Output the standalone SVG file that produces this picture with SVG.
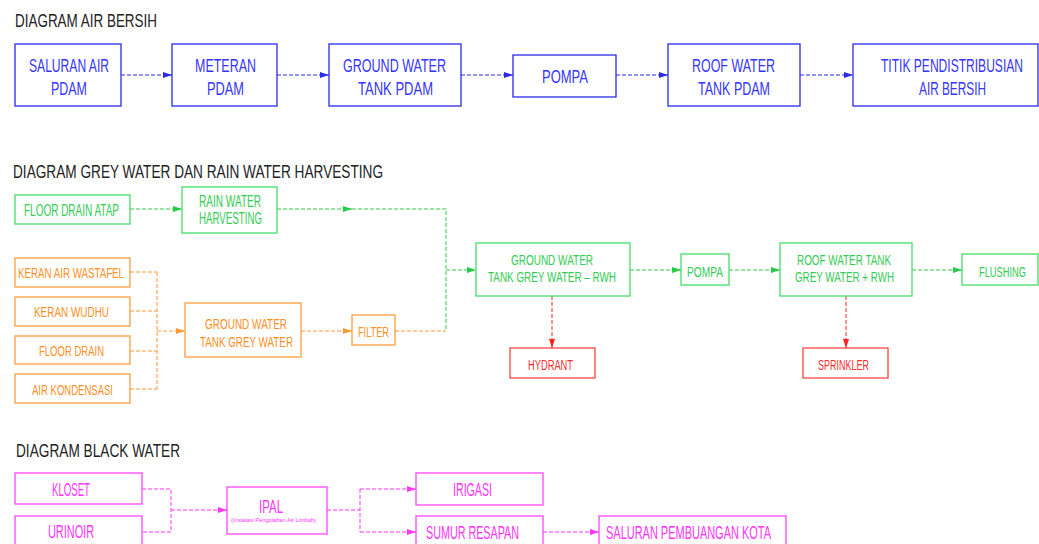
<svg xmlns="http://www.w3.org/2000/svg" width="1039" height="544" viewBox="0 0 1039 544">
<style>
text{font-family:"Liberation Sans Narrow","Liberation Sans",Arial,sans-serif;text-anchor:middle}
.t{font-size:19px;fill:#222;text-anchor:start}
.bx{fill:#fff;stroke-width:1.3}
.b .bx{stroke:#2a2ae8}.b text{fill:#3535ff;font-size:19px}
.g .bx{stroke:#44dd66}.g text{fill:#33cc55;font-size:15px}
.o .bx{stroke:#ff9d3d}.o text{fill:#ff8f26;font-size:15.5px}
.r .bx{stroke:#ff4444}.r text{fill:#ff2d2d;font-size:15px}
.m .bx{stroke:#ff44ff}.m text{fill:#ff33ff;font-size:18px}
.c path{fill:none;stroke-width:1;stroke-dasharray:4 2}
.cb{stroke:#2a2ae8}.cg{stroke:#33cc44}.co{stroke:#ff9933}.cr{stroke:#ff2222}.cm{stroke:#ff33ff}
</style>
<defs>
<marker id="ab" markerUnits="userSpaceOnUse" markerWidth="10" markerHeight="8" refX="9" refY="4" orient="auto"><path d="M0,1 L9,4 L0,7 Z" fill="#2a2ae8"/></marker>
<marker id="ag" markerUnits="userSpaceOnUse" markerWidth="10" markerHeight="8" refX="9" refY="4" orient="auto"><path d="M0,1 L9,4 L0,7 Z" fill="#22cc44"/></marker>
<marker id="ao" markerUnits="userSpaceOnUse" markerWidth="10" markerHeight="8" refX="9" refY="4" orient="auto"><path d="M0,1 L9,4 L0,7 Z" fill="#ff9933"/></marker>
<marker id="ar" markerUnits="userSpaceOnUse" markerWidth="10" markerHeight="8" refX="9" refY="4" orient="auto"><path d="M0,1 L9,4 L0,7 Z" fill="#ff2222"/></marker>
<marker id="am" markerUnits="userSpaceOnUse" markerWidth="10" markerHeight="8" refX="9" refY="4" orient="auto"><path d="M0,1 L9,4 L0,7 Z" fill="#ff33ff"/></marker>
</defs>
<rect width="1039" height="544" fill="#fff"/>

<g id="titles">
<text class="t" x="15" y="27" textLength="142" lengthAdjust="spacingAndGlyphs">DIAGRAM AIR BERSIH</text>
<text class="t" x="13" y="178" textLength="370" lengthAdjust="spacingAndGlyphs">DIAGRAM GREY WATER DAN RAIN WATER HARVESTING</text>
<text class="t" x="16" y="457" textLength="164" lengthAdjust="spacingAndGlyphs">DIAGRAM BLACK WATER</text>
</g>

<g id="connectors" class="c">
<path class="cb" d="M121,75 H172" marker-end="url(#ab)"/>
<path class="cb" d="M277,75 H329" marker-end="url(#ab)"/>
<path class="cb" d="M461,75 H513" marker-end="url(#ab)"/>
<path class="cb" d="M616,75 H668" marker-end="url(#ab)"/>
<path class="cb" d="M800,75 H853" marker-end="url(#ab)"/>

<path class="cg" d="M130,209 H182" marker-end="url(#ag)"/>
<path class="cg" d="M277,209 H352" marker-end="url(#ag)"/>
<path class="cg" d="M352,209 H446 V331"/>
<path class="cg" d="M446,270 H476" marker-end="url(#ag)"/>
<path class="co" d="M395,331 H446"/>
<path class="cg" d="M630,270 H681" marker-end="url(#ag)"/>
<path class="cg" d="M729,270 H780" marker-end="url(#ag)"/>
<path class="cg" d="M912,270 H962" marker-end="url(#ag)"/>
<path class="cr" d="M552,296 V348" marker-end="url(#ar)"/>
<path class="cr" d="M846,296 V348" marker-end="url(#ar)"/>

<path class="co" d="M130,272 H157 M130,311 H157 M130,351 H157 M130,389 H157 M157,272 V389"/>
<path class="co" d="M157,331 H185" marker-end="url(#ao)"/>
<path class="co" d="M301,331 H352" marker-end="url(#ao)"/>

<path class="cm" d="M142,489 H171 V532 H142"/>
<path class="cm" d="M171,510 H227" marker-end="url(#am)"/>
<path class="cm" d="M327,510 H360 M360,489 V532"/>
<path class="cm" d="M360,489 H416" marker-end="url(#am)"/>
<path class="cm" d="M360,532 H416" marker-end="url(#am)"/>
<path class="cm" d="M543,532 H599" marker-end="url(#am)"/>
</g>

<g id="n-saluran" class="b"><rect class="bx" x="15" y="44" width="106" height="62"/>
<text x="69" y="72" textLength="80" lengthAdjust="spacingAndGlyphs">SALURAN AIR</text>
<text x="69" y="95" textLength="36" lengthAdjust="spacingAndGlyphs">PDAM</text></g>
<g id="n-meteran" class="b"><rect class="bx" x="172" y="44" width="105" height="62"/>
<text x="225.5" y="72" textLength="61" lengthAdjust="spacingAndGlyphs">METERAN</text>
<text x="225.5" y="95" textLength="37" lengthAdjust="spacingAndGlyphs">PDAM</text></g>
<g id="n-gwt-pdam" class="b"><rect class="bx" x="329" y="44" width="132" height="62"/>
<text x="394.5" y="72" textLength="103" lengthAdjust="spacingAndGlyphs">GROUND WATER</text>
<text x="395.5" y="95" textLength="75" lengthAdjust="spacingAndGlyphs">TANK PDAM</text></g>
<g id="n-pompa1" class="b"><rect class="bx" x="513" y="55" width="103" height="42"/>
<text x="565" y="83" textLength="46" lengthAdjust="spacingAndGlyphs">POMPA</text></g>
<g id="n-rwt-pdam" class="b"><rect class="bx" x="668" y="44" width="132" height="62"/>
<text x="733.5" y="72" textLength="83" lengthAdjust="spacingAndGlyphs">ROOF WATER</text>
<text x="734" y="95" textLength="72" lengthAdjust="spacingAndGlyphs">TANK PDAM</text></g>
<g id="n-titik" class="b"><rect class="bx" x="853" y="44" width="185" height="62"/>
<text x="952" y="72" textLength="142" lengthAdjust="spacingAndGlyphs">TITIK PENDISTRIBUSIAN</text>
<text x="952.5" y="95" textLength="67" lengthAdjust="spacingAndGlyphs">AIR BERSIH</text></g>

<g id="n-floor-atap" class="g"><rect class="bx" x="15" y="195" width="115" height="29"/>
<text x="71.5" y="216" textLength="95" lengthAdjust="spacingAndGlyphs" style="font-size:16.5px">FLOOR DRAIN ATAP</text></g>
<g id="n-rwh" class="g"><rect class="bx" x="182" y="187" width="95" height="46"/>
<text x="230" y="207" textLength="62" lengthAdjust="spacingAndGlyphs" style="font-size:16px">RAIN WATER</text>
<text x="230.5" y="224" textLength="63" lengthAdjust="spacingAndGlyphs" style="font-size:16px">HARVESTING</text></g>
<g id="n-keran-wastafel" class="o"><rect class="bx" x="15" y="258" width="115" height="29"/>
<text x="71" y="278" textLength="106" lengthAdjust="spacingAndGlyphs">KERAN AIR WASTAFEL</text></g>
<g id="n-keran-wudhu" class="o"><rect class="bx" x="15" y="297" width="115" height="29"/>
<text x="71.5" y="317" textLength="75" lengthAdjust="spacingAndGlyphs">KERAN WUDHU</text></g>
<g id="n-floor-drain" class="o"><rect class="bx" x="15" y="336" width="115" height="28"/>
<text x="71.5" y="356" textLength="65" lengthAdjust="spacingAndGlyphs">FLOOR DRAIN</text></g>
<g id="n-kondensasi" class="o"><rect class="bx" x="15" y="374" width="115" height="29"/>
<text x="72.5" y="395" textLength="81" lengthAdjust="spacingAndGlyphs">AIR KONDENSASI</text></g>
<g id="n-gwt-grey" class="o"><rect class="bx" x="185" y="303" width="116" height="54"/>
<text x="246" y="329" textLength="82" lengthAdjust="spacingAndGlyphs">GROUND WATER</text>
<text x="246.5" y="347" textLength="93" lengthAdjust="spacingAndGlyphs">TANK GREY WATER</text></g>
<g id="n-filter" class="o"><rect class="bx" x="352" y="315" width="43" height="30"/>
<text x="373.5" y="337" textLength="31" lengthAdjust="spacingAndGlyphs">FILTER</text></g>
<g id="n-gwt-rwh" class="g"><rect class="bx" x="476" y="243" width="154" height="53"/>
<text x="552" y="265" textLength="82" lengthAdjust="spacingAndGlyphs">GROUND WATER</text>
<text x="552" y="282" textLength="128" lengthAdjust="spacingAndGlyphs">TANK GREY WATER – RWH</text></g>
<g id="n-pompa2" class="g"><rect class="bx" x="681" y="254" width="48" height="31"/>
<text x="705" y="277" textLength="36" lengthAdjust="spacingAndGlyphs">POMPA</text></g>
<g id="n-rwt-grey" class="g"><rect class="bx" x="780" y="243" width="132" height="53"/>
<text x="844" y="265" textLength="94" lengthAdjust="spacingAndGlyphs">ROOF WATER TANK</text>
<text x="844.5" y="282" textLength="99" lengthAdjust="spacingAndGlyphs">GREY WATER + RWH</text></g>
<g id="n-flushing" class="g"><rect class="bx" x="962" y="254" width="76" height="31"/>
<text x="1002.5" y="277" textLength="47" lengthAdjust="spacingAndGlyphs">FLUSHING</text></g>
<g id="n-hydrant" class="r"><rect class="bx" x="510" y="348" width="85" height="30"/>
<text x="550.5" y="370" textLength="45" lengthAdjust="spacingAndGlyphs">HYDRANT</text></g>
<g id="n-sprinkler" class="r"><rect class="bx" x="803" y="348" width="85" height="30"/>
<text x="843.5" y="370" textLength="51" lengthAdjust="spacingAndGlyphs">SPRINKLER</text></g>

<g id="n-kloset" class="m"><rect class="bx" x="15" y="473" width="127" height="31"/>
<text x="71" y="496" textLength="38" lengthAdjust="spacingAndGlyphs">KLOSET</text></g>
<g id="n-urinoir" class="m"><rect class="bx" x="15" y="516" width="127" height="40"/>
<text x="71" y="538" textLength="46" lengthAdjust="spacingAndGlyphs">URINOIR</text></g>
<g id="n-ipal" class="m"><rect class="bx" x="227" y="487" width="100" height="47"/>
<text x="271" y="513" textLength="24" lengthAdjust="spacingAndGlyphs">IPAL</text>
<text x="273.5" y="522" textLength="85" lengthAdjust="spacingAndGlyphs" style="font-size:5px">(Instalasi Pengolahan Air Limbah)</text></g>
<g id="n-irigasi" class="m"><rect class="bx" x="416" y="473" width="127" height="32"/>
<text x="472.5" y="496" textLength="39" lengthAdjust="spacingAndGlyphs">IRIGASI</text></g>
<g id="n-sumur" class="m"><rect class="bx" x="416" y="516" width="127" height="40"/>
<text x="472.5" y="539" textLength="93" lengthAdjust="spacingAndGlyphs">SUMUR RESAPAN</text></g>
<g id="n-saluran-kota" class="m"><rect class="bx" x="599" y="516" width="187" height="40"/>
<text x="688.5" y="539" textLength="165" lengthAdjust="spacingAndGlyphs">SALURAN PEMBUANGAN KOTA</text></g>
</svg>
